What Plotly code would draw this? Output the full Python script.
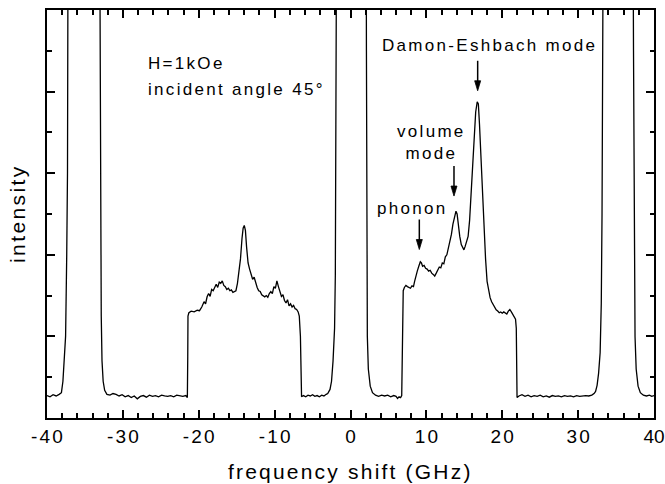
import plotly.graph_objects as go

# Brillouin light scattering spectrum, H = 1 kOe, 45 degree incidence
# intensity in arbitrary units; values above 10 are the saturated elastic lines
freq = [
    -40.0, -39.6, -39.2, -38.8, -38.4, -38.1, -37.9, -37.7, -37.55, -37.4, -37.3, -37.2,
    -35.2, -33.1, -33.05, -32.95, -32.85, -32.75, -32.6, -32.4, -32.1,
    -31.7, -31.3, -30.9, -30.5, -30.1, -29.7, -29.3, -28.9, -28.5, -28.1, -27.7, -27.3,
    -26.9, -26.5, -26.1, -25.7, -25.3, -24.9, -24.5, -24.1, -23.7, -23.3, -22.9, -22.5,
    -22.1, -21.7, -21.5, -21.45, -21.42,
    -21.3, -21.0, -20.6, -20.2, -19.9, -19.6, -19.3, -19.1, -18.9, -18.7, -18.5, -18.3,
    -18.1, -17.9, -17.7, -17.5, -17.3, -17.1, -16.9, -16.7, -16.5, -16.3, -16.1, -15.9,
    -15.7, -15.5, -15.3, -15.1, -14.9, -14.7, -14.5, -14.3, -14.15, -14.0, -13.85, -13.7,
    -13.5, -13.3, -13.1, -12.9, -12.7, -12.5, -12.3, -12.1, -11.9, -11.7, -11.5, -11.3,
    -11.1, -10.9, -10.7, -10.5, -10.3, -10.1, -9.9, -9.7, -9.5, -9.3, -9.1, -8.9,
    -8.7, -8.5, -8.3, -8.1, -7.9, -7.7, -7.5, -7.3, -7.1, -6.9, -6.75, -6.6, -6.5, -6.45,
    -6.2, -5.9, -5.6, -5.3, -5.0, -4.7, -4.4, -4.1, -3.8, -3.5, -3.2, -3.0, -2.7, -2.5,
    -2.3, -2.1, -2.0, -1.9, -1.85, -1.8,
    0.0, 2.05, 2.1, 2.15, 2.22, 2.35, 2.6, 2.9, 3.3,
    3.7, 4.1, 4.5, 4.9, 5.3, 5.7, 6.0, 6.2, 6.4, 6.6, 6.75, 6.8,
    6.85, 6.95, 7.1, 7.3, 7.5, 7.7, 7.9, 8.1, 8.3, 8.45, 8.6, 8.8, 9.0, 9.2, 9.35, 9.5,
    9.7, 9.9, 10.1, 10.3, 10.5, 10.7, 10.9, 11.1, 11.3, 11.5, 11.7, 11.9, 12.1, 12.3,
    12.5, 12.7, 12.9, 13.1, 13.3, 13.5, 13.7, 13.9, 14.05, 14.2, 14.4, 14.6, 14.8, 14.95,
    15.1, 15.3, 15.5, 15.7, 15.9, 16.1, 16.3, 16.5, 16.7, 16.85, 17.0, 17.2, 17.4, 17.6,
    17.8, 18.0, 18.2, 18.4, 18.6, 18.8, 19.0, 19.2, 19.4, 19.6, 19.8, 20.0, 20.2, 20.4,
    20.6, 20.8, 21.0, 21.2, 21.4, 21.6, 21.75, 21.85, 21.9, 21.95,
    22.2, 22.6, 23.0, 23.4, 23.8, 24.2, 24.6, 25.0, 25.4, 25.8, 26.2, 26.6, 27.0, 27.4,
    27.8, 28.2, 28.6, 29.0, 29.4, 29.8, 30.2, 30.6, 31.0, 31.4, 31.8, 32.1,
    32.3, 32.5, 32.7, 32.9, 33.05, 33.15, 33.25, 33.35,
    35.3, 37.2, 37.3, 37.4, 37.5, 37.65, 37.9, 38.2, 38.6, 39.0, 39.4, 39.7, 40.0,
]
intensity = [
    0.55, 0.52, 0.57, 0.54, 0.58, 0.62, 0.9, 1.4, 2.0, 4.0, 6.0, 14.0,
    14.0, 14.0, 12.0, 6.0, 2.5, 1.4, 0.9, 0.68, 0.58,
    0.56, 0.60, 0.58, 0.54, 0.57, 0.52, 0.55, 0.50, 0.54, 0.47, 0.53, 0.55,
    0.51, 0.56, 0.53, 0.55, 0.52, 0.56, 0.54, 0.53, 0.55, 0.52, 0.56, 0.54,
    0.53, 0.55, 0.50, 1.5, 2.5,
    2.58, 2.62, 2.60, 2.64, 2.63, 2.72, 2.85, 2.80, 2.97, 3.05, 2.98, 3.15,
    3.12, 3.22, 3.28, 3.20, 3.33, 3.30, 3.36, 3.25, 3.22, 3.15, 3.18, 3.12,
    3.14, 3.08, 3.10, 3.12, 3.30, 3.55, 3.90, 4.40, 4.65, 4.72, 4.60, 4.20,
    3.80, 3.65, 3.50, 3.40, 3.45, 3.30, 3.20, 3.12, 3.10, 3.02, 3.00, 2.97,
    3.00, 2.96, 3.05, 3.10, 3.05, 3.22, 3.18, 3.36, 3.22, 3.10, 2.98, 3.02,
    2.88, 2.82, 2.90, 2.75, 2.80, 2.72, 2.76, 2.68, 2.66, 2.60, 2.50, 2.00, 1.00, 0.52,
    0.55, 0.52, 0.56, 0.54, 0.57, 0.53, 0.55, 0.52, 0.56, 0.54, 0.58, 0.60, 0.70, 0.90,
    1.4, 2.2, 3.5, 7.0, 11.0, 14.0,
    14.0, 14.0, 9.0, 4.0, 2.0, 1.2, 0.78, 0.62, 0.56,
    0.53, 0.56, 0.54, 0.56, 0.52, 0.55, 0.53, 0.48, 0.52, 0.50, 0.55, 1.5,
    3.00, 3.12, 3.20, 3.25, 3.22, 3.20, 3.18, 3.24, 3.22, 3.35, 3.50, 3.60, 3.72, 3.83, 3.80, 3.72,
    3.74, 3.67, 3.65, 3.60, 3.62, 3.55, 3.52, 3.48, 3.55, 3.62, 3.70, 3.68, 3.80, 3.78,
    3.95, 4.00, 4.15, 4.30, 4.50, 4.75, 4.95, 5.07, 5.00, 4.75, 4.45, 4.25, 4.15, 4.12,
    4.20, 4.30, 4.45, 4.85, 5.50, 6.30, 7.00, 7.50, 7.75, 7.70, 7.20, 6.30, 5.40, 4.60,
    3.90, 3.35, 3.10, 2.95, 2.85, 2.78, 2.70, 2.65, 2.62, 2.58, 2.60, 2.57, 2.60, 2.58,
    2.55, 2.62, 2.66, 2.60, 2.52, 2.48, 2.42, 2.20, 1.00, 0.50,
    0.54, 0.57, 0.53, 0.56, 0.52, 0.55, 0.53, 0.56, 0.52, 0.54, 0.51, 0.55, 0.53, 0.54,
    0.52, 0.55, 0.53, 0.54, 0.52, 0.55, 0.53, 0.54, 0.55, 0.54, 0.56, 0.60,
    0.65, 0.80, 1.10, 1.60, 2.80, 5.00, 9.00, 14.0,
    14.0, 14.0, 9.0, 4.0, 2.0, 1.2, 0.78, 0.62, 0.56, 0.54, 0.56, 0.53, 0.55,
]

x_tick_vals = [-40, -30, -20, -10, 0, 10, 20, 30, 40]

# mode labels with their arrow tips (frequency, intensity)
mode_names = ["Damon-Eshbach mode", "volume<br>mode", "phonon"]
mode_label_x = [18.26, 10.7, 8.2]
mode_label_y = [9.14, 6.76, 5.14]
arrow_x = [16.76, 13.64, 9.07]
arrow_y = [8.02, 5.44, 4.13]

FONT = "Liberation Sans"


def spaced(text, px):
    return f'<span style="letter-spacing:{px}px">{text}</span>'


def tick_label(v):
    # spacing only between characters; the last label sits at the page edge
    s = str(v)
    if v == x_tick_vals[-1]:
        return s
    return spaced(s[:-1], 2.2) + s[-1]


fig = go.Figure()
fig.add_trace(go.Scatter(
    x=freq, y=intensity, mode="lines",
    line=dict(color="black", width=1.3),
    showlegend=False, hoverinfo="skip",
))

annotations = []
for name, lx, ly in zip(mode_names, mode_label_x, mode_label_y):
    annotations.append(dict(
        x=lx, y=ly, xref="x", yref="y", text=spaced(name, 2.3), showarrow=False,
        font=dict(family=FONT, size=17, color="black"),
        xanchor="center", yanchor="middle",
    ))

annotations.append(dict(
    x=-26.9, y=8.7, xref="x", yref="y", text=spaced("H=1kOe", 2.3), showarrow=False,
    font=dict(family=FONT, size=17, color="black"), xanchor="left", yanchor="middle",
))
annotations.append(dict(
    x=-26.9, y=8.04, xref="x", yref="y", text=spaced("incident angle 45°", 2.3),
    showarrow=False, font=dict(family=FONT, size=17, color="black"),
    xanchor="left", yanchor="middle",
))

# axis titles
annotations.append(dict(
    x=0.5, y=0, xref="paper", yref="paper", yshift=-53,
    text=spaced("frequency shift (GHz)", 2.2), showarrow=False,
    font=dict(family=FONT, size=21, color="black"), xanchor="center", yanchor="middle",
))
annotations.append(dict(
    x=0, y=0.5, xref="paper", yref="paper", xshift=-30, textangle=-90,
    text=spaced("intensity", 2.4), showarrow=False,
    font=dict(family=FONT, size=21, color="black"), xanchor="center", yanchor="middle",
))

shapes = []
for ax_, ay_ in zip(arrow_x, arrow_y):
    shapes.append(dict(
        type="path", xref="x", yref="y", xsizemode="pixel", ysizemode="pixel",
        xanchor=ax_, yanchor=ay_, path="M 0,30 L 0,8",
        line=dict(color="black", width=1.5),
    ))
    shapes.append(dict(
        type="path", xref="x", yref="y", xsizemode="pixel", ysizemode="pixel",
        xanchor=ax_, yanchor=ay_, path="M -3,10 L 3,10 L 0,0 Z",
        fillcolor="black", line=dict(color="black", width=0.8),
    ))

fig.update_layout(
    width=665, height=484,
    margin=dict(l=47, r=11, t=10, b=66),
    paper_bgcolor="white", plot_bgcolor="white",
    font=dict(family=FONT, color="black"),
    annotations=annotations, shapes=shapes,
    xaxis=dict(
        range=[-40, 40], showgrid=False, zeroline=False, automargin=False,
        showline=True, linecolor="black", linewidth=2, mirror="ticks",
        ticks="inside", ticklen=8, tickwidth=1.5, tickcolor="black",
        tickvals=x_tick_vals, ticktext=[tick_label(v) for v in x_tick_vals],
        tickfont=dict(family=FONT, size=19, color="black"),
        ticklabeloverflow="allow",
        minor=dict(ticks="inside", ticklen=5, tickwidth=1.5, tickcolor="black", dtick=2),
    ),
    yaxis=dict(
        range=[0, 10], showgrid=False, zeroline=False, automargin=False,
        showline=True, linecolor="black", linewidth=2, mirror="ticks",
        ticks="inside", ticklen=8, tickwidth=1.5, tickcolor="black",
        dtick=2, showticklabels=False,
        minor=dict(ticks="inside", ticklen=4.5, tickwidth=1.5, tickcolor="black", dtick=1),
    ),
)

fig.write_html("out.html")
